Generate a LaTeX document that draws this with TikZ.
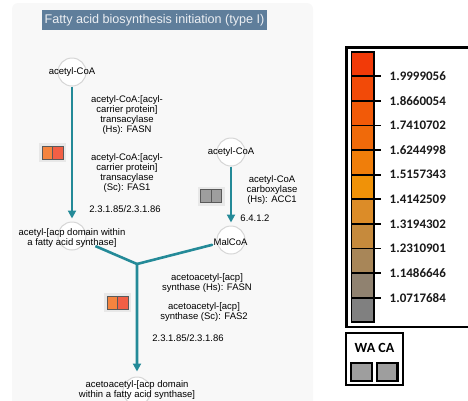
\documentclass[tikz,border=0pt]{standalone}
\usepackage{fontspec}
\setmainfont{Liberation Sans}
\newfontfamily\legendfont{Carlito}
\usetikzlibrary{arrows.meta,positioning,calc}
\definecolor{rxnteal}{RGB}{36,138,152}
\definecolor{titlebg}{RGB}{95,126,155}
\definecolor{panelbg}{RGB}{248,248,248}
\definecolor{metring}{RGB}{214,214,214}
\definecolor{hsorange}{RGB}{245,132,63}
\definecolor{scred}{RGB}{241,95,69}
\definecolor{nodata}{RGB}{158,158,158}
\definecolor{lgA}{RGB}{242,58,8}
\definecolor{lgB}{RGB}{242,74,8}
\definecolor{lgC}{RGB}{242,90,8}
\definecolor{lgD}{RGB}{240,106,10}
\definecolor{lgE}{RGB}{240,126,10}
\definecolor{lgF}{RGB}{240,146,8}
\definecolor{lgG}{RGB}{220,140,40}
\definecolor{lgH}{RGB}{198,138,60}
\definecolor{lgI}{RGB}{168,134,88}
\definecolor{lgJ}{RGB}{144,130,112}
\definecolor{lgK}{RGB}{128,128,128}
\newcommand{\exprbox}[3]{% centre, left cell, right cell
  \fill[black!9] ($(#1)+(-13.5,-9.5)$) rectangle ($(#1)+(13.5,9.5)$);
  \draw[black!65, line width=0.7pt, fill=#2] ($(#1)+(-10.5,-6.5)$) rectangle ($(#1)+(0,6.5)$);
  \draw[black!65, line width=0.7pt, fill=#3] ($(#1)+(0,-6.5)$) rectangle ($(#1)+(10.5,6.5)$);
}

\begin{document}
\begin{tikzpicture}[
  x=1pt, y=-1pt,
  met/.style={circle, draw=metring, fill=white, line width=1pt, minimum size=28pt, inner sep=0pt},
  lbl/.style={font=\fontsize{9.5}{10}\selectfont, align=center, inner sep=0pt},
  title/.style={fill=titlebg, text=white!88!titlebg, font=\fontsize{12.6}{14}\selectfont,
                minimum width=225pt, minimum height=20pt, inner sep=0pt},
  rxn/.style={-{Triangle[length=8pt,width=8pt]}, draw=rxnteal, line width=2.6pt},
  rxnline/.style={draw=rxnteal, line width=2.6pt, line cap=round},
  cell/.style={draw=black, line width=1.8pt},
  tick/.style={draw=black, line width=1.8pt},
  value/.style={font=\legendfont\bfseries\fontsize{13}{15}\selectfont, text=black!90, anchor=west, inner sep=0pt}
]
\useasboundingbox (0,0) rectangle (468,400);
\fill[panelbg, rounded corners=6pt] (12,3) rectangle (313,412);

\node[title] (ttl) at (154.5,20) {Fatty acid biosynthesis initiation (type I)};

\node[met] (acoaA) at (72,72) {};
\node[met] (acp) at (72,236) {};
\node[met] (acoaB) at (231,152) {};
\node[met] (malcoa) at (231,240) {};
\node[met] (acac) at (137,391) {};
\coordinate (jn) at (137,264);

\draw[rxn, shorten >=3pt] (acoaA) -- (acp);
\draw[rxn, shorten >=3pt] (acoaB) -- (malcoa);
\draw[rxnline, shorten <=5pt] (malcoa) -- (jn);
\draw[rxn, shorten <=11pt, shorten >=5pt] (acp) -- (jn) -- (acac);

\node[lbl] at (acoaA) {acetyl-CoA};
\node[lbl] at (72,238) {acetyl-[acp domain within\\a fatty acid synthase]};
\node[lbl] at (acoaB) {acetyl-CoA};
\node[lbl] at (230.5,242) {MalCoA};
\node[lbl] at (137,390.5) {acetoacetyl-[acp domain\\within a fatty acid synthase]};

\node[lbl] (fasn1) at (127,115.5) {acetyl-CoA:[acyl-\\carrier protein]\\transacylase\\(Hs): FASN};
\node[lbl] (fas1) at (127,173) {acetyl-CoA:[acyl-\\carrier protein]\\transacylase\\(Sc): FAS1};
\node[lbl] (ecA) at (125,209) {2.3.1.85/2.3.1.86};
\node[lbl] (acc1) at (272,190) {acetyl-CoA\\carboxylase\\(Hs): ACC1};
\node[lbl] (ecB) at (255,218) {6.4.1.2};
\node[lbl] (fasn2) at (207,283) {acetoacetyl-[acp]\\synthase (Hs): FASN};
\node[lbl] (fas2) at (204,312) {acetoacetyl-[acp]\\synthase (Sc): FAS2};
\node[lbl] (ecC) at (188,338) {2.3.1.85/2.3.1.86};

\exprbox{52.5,152.5}{hsorange}{scred}
\exprbox{211,196}{nodata}{nodata}
\exprbox{117.5,302.5}{hsorange}{scred}

\draw[line width=2.5pt] (346.5,47.5) rectangle (474,327);
\foreach \c [count=\i from 0] in {lgA,lgB,lgC,lgD,lgE,lgF,lgG,lgH,lgI,lgJ,lgK}
  \draw[cell, fill=\c] (351.5,51.7+24.6*\i) rectangle (374,76.3+24.6*\i);
\foreach \v [count=\i] in {1.9999056,1.8660054,1.7410702,1.6244998,1.5157343,
                           1.4142509,1.3194302,1.2310901,1.1486646,1.0717684} {
  \draw[tick] (374,51.7+24.6*\i) -- (380.5,51.7+24.6*\i);
  \node[value] (v\i) at (389.5,51.7+24.6*\i) {\v};
}

\draw[line width=2pt] (346,333) rectangle (403,385);
\node[font=\legendfont\bfseries\fontsize{14}{16}\selectfont, inner sep=0pt] (waca) at (374.5,348) {WA CA};
\draw[cell, line width=2.5pt, fill=nodata] (351,363) rectangle (372,381);
\draw[cell, line width=2.5pt, fill=nodata] (377,363) rectangle (397.5,381);
\end{tikzpicture}
\end{document}
